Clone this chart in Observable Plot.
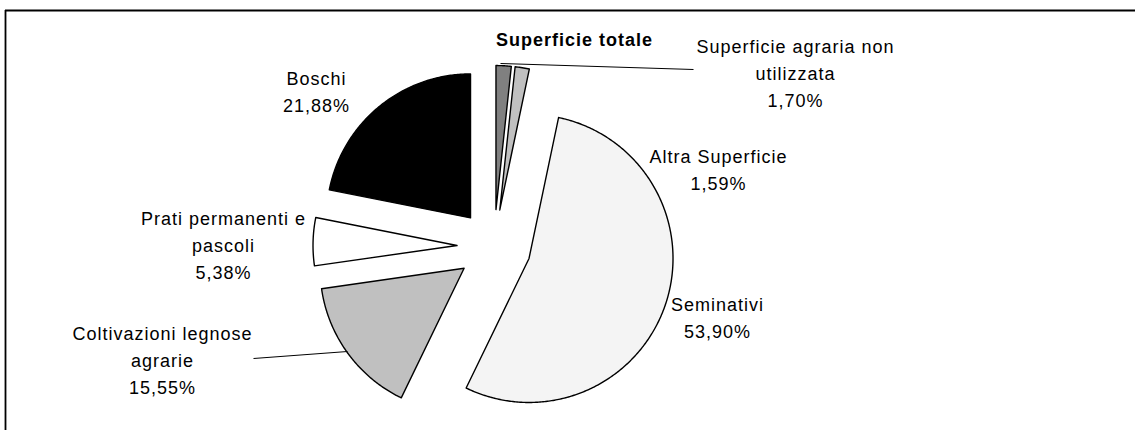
<!DOCTYPE html>
<html><head><meta charset="utf-8">
<script src="https://cdn.jsdelivr.net/npm/d3@7"></script>
<script src="https://cdn.jsdelivr.net/npm/@observablehq/plot@0.6"></script>
<style>body{margin:0;background:#fff;font-family:"Liberation Sans",Arial,sans-serif}#chart{width:1135px;height:430px}</style>
</head><body><div id="chart"></div><script>
// ---- data ----
const title = "Superficie totale";
const categories = ["Superficie agraria non utilizzata","Altra Superficie","Seminativi","Coltivazioni legnose agrarie","Prati permanenti e pascoli","Boschi"];
const values = [1.70, 1.59, 53.90, 15.55, 5.38, 21.88];
const valueLabels = ["1,70%","1,59%","53,90%","15,55%","5,38%","21,88%"];
const labelTexts = ["Superficie agraria non\nutilizzata","Altra Superficie","Seminativi","Coltivazioni legnose\nagrarie","Prati permanenti e\npascoli","Boschi"];
const colors = ["#808080","#c0c0c0","#f4f4f4","#c0c0c0","#ffffff","#000000"];

// ---- layout ----
const W = 1135, H = 430;
const cx = 493.5, cy = 246, R = 144, explode = 37;
const labelPos = [[795,71],[718,167.7],[717,315.7],[162,358.2],[223,243.2],[316,89]];
const leaders = [{x1:500,y1:63,x2:693,y2:69},{x1:253,y1:358,x2:347,y2:351}];

const arcs = d3.pie().sort(null).value(d => d)(values);
const pts = [];
arcs.forEach((a, i) => {
  const mid = (a.startAngle + a.endAngle) / 2;
  const ax = cx + explode * Math.sin(mid), ay = cy - explode * Math.cos(mid);
  pts.push({k: i, x: ax, y: ay, c: colors[i]});
  const n = Math.max(4, Math.ceil((a.endAngle - a.startAngle) / 0.01));
  for (let j = 0; j <= n; j++) {
    const t = a.startAngle + (a.endAngle - a.startAngle) * j / n;
    pts.push({k: i, x: ax + R * Math.sin(t), y: ay - R * Math.cos(t), c: colors[i]});
  }
});
const labels = categories.map((c, i) => ({t: labelTexts[i] + "\n" + valueLabels[i], x: labelPos[i][0], y: labelPos[i][1]}));

const plot = Plot.plot({
  width: W, height: H,
  margin: 0,
  x: {domain: [0, W], range: [0, W], axis: null},
  y: {domain: [0, H], range: [0, H], axis: null},
  style: {fontFamily: '"Liberation Sans", Arial, sans-serif', background: "#fff", letterSpacing: "1px"},
  marks: [
    Plot.ruleY([10], {x1: 5, x2: W, stroke: "#000", strokeWidth: 1.8}),
    Plot.ruleX([5], {y1: 10, y2: H, stroke: "#000", strokeWidth: 1.8}),
    Plot.line(pts, {x: "x", y: "y", z: "k", fill: "c", stroke: "#000", strokeWidth: 1.4, curve: "linear-closed"}),
    Plot.link(leaders, {x1: "x1", y1: "y1", x2: "x2", y2: "y2", stroke: "#000", strokeWidth: 1}),
    Plot.text(labels, {x: "x", y: "y", text: "t", fontSize: 18, lineHeight: 1.5, fill: "#000", textAnchor: "middle"}),
    Plot.text([title], {x: () => 574, y: () => 40, text: d => d, fontSize: 18, fontWeight: "bold", fill: "#000"})
  ]
});
document.getElementById("chart").append(plot);
</script></body></html>
